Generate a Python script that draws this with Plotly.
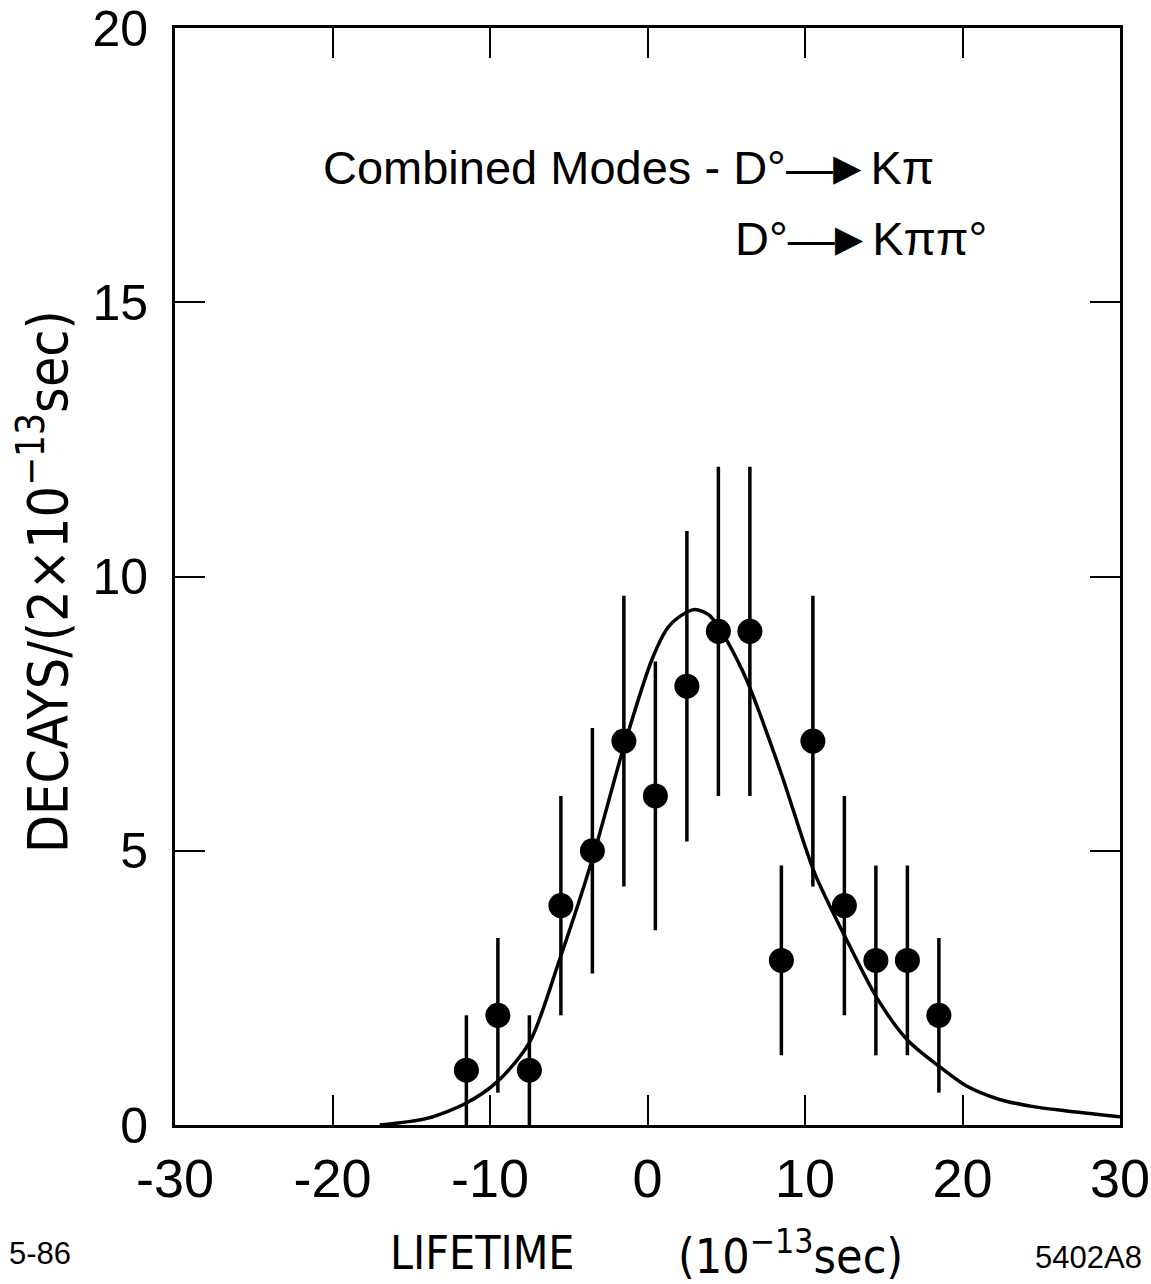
import plotly.graph_objects as go

# Data points (bin centers, counts, errors)
lifetime = [-11.5, -9.5, -7.5, -5.5, -3.5, -1.5, 0.5, 2.5, 4.5, 6.5, 8.5, 10.5, 12.5, 14.5, 16.5, 18.5]
decays = [1, 2, 1, 4, 5, 7, 6, 8, 9, 9, 3, 7, 4, 3, 3, 2]
errors = [1.0, 1.41, 1.0, 2.0, 2.24, 2.65, 2.45, 2.83, 3.0, 3.0, 1.73, 2.65, 2.0, 1.73, 1.73, 1.41]

# Fitted curve
curve_x = [-17, -14, -11.5, -9.5, -7.5, -5.6, -3.5, -1.5, 0.3, 1.3, 2.2, 3.0, 3.9, 4.9, 6.0,
           6.6, 8.5, 10.6, 12.6, 14.6, 16.5, 18.6, 20.2, 22.3, 24.4, 26.5, 30]
curve_y = [0, 0.12, 0.4, 0.8, 1.5, 3.0, 4.85, 6.9, 8.5, 9.07, 9.3, 9.4, 9.3, 8.9, 8.3,
           7.9, 6.4, 4.6, 3.4, 2.3, 1.55, 1.05, 0.72, 0.47, 0.34, 0.26, 0.15]

x_ticks = [-30, -20, -10, 0, 10, 20, 30]
y_ticks = [0, 5, 10, 15, 20]

fig = go.Figure()
fig.add_trace(go.Scatter(x=curve_x, y=curve_y, mode="lines",
                         line=dict(color="black", width=3.5, shape="spline", smoothing=0.8),
                         showlegend=False, hoverinfo="skip", cliponaxis=False))
fig.add_trace(go.Scatter(x=lifetime, y=decays, mode="markers",
                         marker=dict(color="black", size=25, line=dict(width=0)),
                         error_y=dict(type="data", array=errors, visible=True,
                                      color="black", thickness=3.5, width=0),
                         showlegend=False))

x_tick_font = dict(family="Liberation Sans, Arial, sans-serif", size=54, color="black")
y_tick_font = dict(family="Liberation Sans, Arial, sans-serif", size=50, color="black")
title_font = "DejaVu Sans Condensed, Liberation Sans, Arial, sans-serif"

common = dict(ticks="inside", ticklen=30, tickwidth=2, tickcolor="black",
              showline=True, linecolor="black", linewidth=3, mirror="ticks",
              showgrid=False, zeroline=False,
              automargin=False, ticklabeloverflow="allow")
fig.update_xaxes(range=[-30, 30], tickvals=x_ticks, ticktext=[str(v) for v in x_ticks],
                 ticklabelstandoff=4, tickfont=x_tick_font, **common)
fig.update_yaxes(range=[0, 20], tickvals=y_ticks, ticktext=[str(v) for v in y_ticks],
                 ticklabelstandoff=14, tickfont=y_tick_font, **common)

arrow = '<span style="letter-spacing:-9px">—</span>►'
annotations = [
    dict(text="DECAYS/(2×10<sup>−13</sup>sec)", xref="paper", yref="paper",
         x=(44 - 175) / 945, y=0.495, textangle=-90, showarrow=False,
         font=dict(family=title_font, size=55, color="black"),
         xanchor="center", yanchor="middle"),
    dict(text="LIFETIME", xref="paper", yref="paper",
         x=(482 - 175) / 945, y=-0.1167, showarrow=False,
         font=dict(family=title_font, size=46, color="black"),
         xanchor="center", yanchor="middle"),
    dict(text="(10<sup>−13</sup>sec)", xref="paper", yref="paper",
         x=(790 - 175) / 945, y=-0.1167, showarrow=False,
         font=dict(family=title_font, size=48, color="black"),
         xanchor="center", yanchor="middle"),
    dict(text="Combined Modes - D°" + arrow + "Kπ", xref="x", yref="y", x=-20.7, y=17.45,
         showarrow=False, xanchor="left", yanchor="middle",
         font=dict(family="Liberation Sans, Arial, sans-serif", size=47, color="black")),
    dict(text="D°" + arrow + "Kππ°", xref="x", yref="y", x=5.4, y=16.17,
         showarrow=False, xanchor="left", yanchor="middle",
         font=dict(family="Liberation Sans, Arial, sans-serif", size=47, color="black")),
    dict(text="5-86", xref="paper", yref="paper", x=(40 - 175) / 945, y=-0.1167,
         showarrow=False, xanchor="center", yanchor="middle",
         font=dict(family="Liberation Sans, Arial, sans-serif", size=31, color="black")),
    dict(text="5402A8", xref="paper", yref="paper", x=(1088 - 175) / 945, y=-0.121,
         showarrow=False, xanchor="center", yanchor="middle",
         font=dict(family="Liberation Sans, Arial, sans-serif", size=31, color="black")),
]

fig.update_layout(width=1151, height=1284, margin=dict(l=175, r=31, t=28, b=159, autoexpand=False),
                  plot_bgcolor="white", paper_bgcolor="white", annotations=annotations)

# remove the default page margin so the figure fills the window exactly
fig.write_html("out.html", config={"displayModeBar": False},
               post_script="document.body.style.margin='0';document.body.style.overflow='hidden';")
